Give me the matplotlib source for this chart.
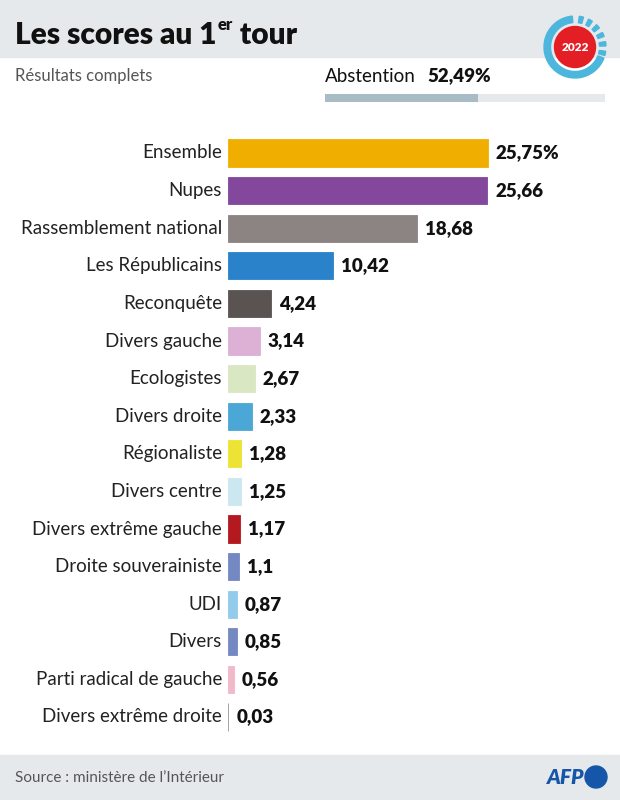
import matplotlib
matplotlib.use("Agg")
import matplotlib.pyplot as plt
from matplotlib.patches import Rectangle, Circle, Wedge
import numpy as np

parties = ["Ensemble", "Nupes", "Rassemblement national", "Les Républicains",
           "Reconquête", "Divers gauche", "Ecologistes", "Divers droite",
           "Régionaliste", "Divers centre", "Divers extrême gauche",
           "Droite souverainiste", "UDI", "Divers", "Parti radical de gauche",
           "Divers extrême droite"]
scores = [25.75, 25.66, 18.68, 10.42, 4.24, 3.14, 2.67, 2.33, 1.28, 1.25,
          1.17, 1.1, 0.87, 0.85, 0.56, 0.03]
value_labels = ["25,75%", "25,66", "18,68", "10,42", "4,24", "3,14", "2,67",
                "2,33", "1,28", "1,25", "1,17", "1,1", "0,87", "0,85", "0,56",
                "0,03"]
colors = ["#F0AF00", "#83479B", "#8C8482", "#2A82CA", "#595452", "#DDB1D5",
          "#D9E8C3", "#4BA7D6", "#EDE335", "#CBE7F0", "#B3191F", "#7489C2",
          "#93CBEA", "#7489C2", "#F2B9C8", "#9A9290"]
abstention = 52.49
abstention_label = "52,49%"

W, H = 620, 800
fig = plt.figure(figsize=(W / 100, H / 100), dpi=100)
plt.rcParams['font.family'] = ['Lato', 'DejaVu Sans']

# decoration axes in pixel coordinates
deco = fig.add_axes([0, 0, 1, 1])
deco.set_xlim(0, W)
deco.set_ylim(H, 0)
deco.axis("off")

band = "#E6E9EC"
deco.add_patch(Rectangle((0, 0), W, 57, color=band, zorder=0))
deco.add_patch(Rectangle((0, 755), W, 45, color=band, zorder=0))

# title with superscript
r = fig.canvas.get_renderer()
t1 = deco.text(15, 35, "Les scores au 1", fontsize=21.5, fontweight="heavy",
               va="center", ha="left", color="#111111")
bb = t1.get_window_extent(r)
t2 = fig.text((bb.x1 + 1) / W, 1 - 25 / H, "er", fontsize=12, fontweight="heavy",
              va="center", ha="left", color="#111111")
bb2 = t2.get_window_extent(r)
fig.text(bb2.x1 / W, 1 - 35 / H, " tour", fontsize=21.5, fontweight="heavy",
         va="center", ha="left", color="#111111")

deco.text(15, 76, "Résultats complets", fontsize=12, color="#555555",
          va="center", ha="left")

# abstention
ta = deco.text(325, 76, "Abstention", fontsize=13.5, color="#111111",
               va="center", ha="left")
bba = ta.get_window_extent(r)
fig.text((bba.x1 + 12) / W, 1 - 76 / H, abstention_label, fontsize=13.5,
         fontweight="heavy", color="#111111", va="center", ha="left")
bar_x0, bar_x1 = 325, 605
deco.add_patch(Rectangle((bar_x0, 94), bar_x1 - bar_x0, 8, color="#E6E9EC", lw=0))
deco.add_patch(Rectangle((bar_x0, 94), (bar_x1 - bar_x0) * abstention / 100 * 1.04, 8,
                         color="#A9BCC6", lw=0))

# logo 2022 (y axis inverted: data angle = -visual angle)
cx, cy = 575, 47
ring = "#4DB6DC"
deco.add_patch(Wedge((cx, cy), 31, 21, 265, width=6.5, color=ring, zorder=3))
for vis in [-12, 6, 24, 42, 60, 78]:
    deco.add_patch(Wedge((cx, cy), 31, -(vis + 4), -(vis - 4), width=6.5,
                         color=ring, zorder=3))
deco.add_patch(Circle((cx, cy), 20.5, color="#E31E24", zorder=4))
deco.text(cx, cy + 0.5, "2022", fontsize=8.5, fontweight="heavy", color="white",
          ha="center", va="center", zorder=5)

# footer
deco.text(15, 778, "Source : ministère de l\u2019Intérieur", fontsize=11,
          color="#555555", va="center", ha="left")
deco.text(584, 778, "AFP", fontsize=15, fontweight="heavy", style="italic",
          color="#1656A8", va="center", ha="right")
deco.add_patch(Circle((596, 777), 11, color="#1656A8", zorder=3))

# bars axes
px_per_unit = (488 - 228) / 25.75
xmax = 30
ax_left, ax_right = 228, 228 + xmax * px_per_unit
y_first, y_last = 153, 717
step = (y_last - y_first) / (len(parties) - 1)
ax_top = y_first - step / 2
ax_bot = y_last + step / 2
ax = fig.add_axes([ax_left / W, 1 - ax_bot / H, (ax_right - ax_left) / W,
                   (ax_bot - ax_top) / H])
ax.set_xlim(0, xmax)
ypos = np.arange(len(parties))
ax.set_ylim(len(parties) - 0.5, -0.5)
ax.barh(ypos, scores, height=0.72, color=colors, edgecolor=colors, linewidth=0.6)
ax.axis("off")
for i, (s, lab, name) in enumerate(zip(scores, value_labels, parties)):
    ax.annotate(lab, (s, i), xytext=(8, 0), textcoords="offset pixels",
                fontsize=13.5, fontweight="heavy", color="#111111",
                va="center", ha="left")
    ax.annotate(name, (0, i), xytext=(-6, 0), textcoords="offset pixels",
                fontsize=13.5, color="#222222", va="center", ha="right",
                annotation_clip=False)

fig.savefig("out.png", dpi=100)
